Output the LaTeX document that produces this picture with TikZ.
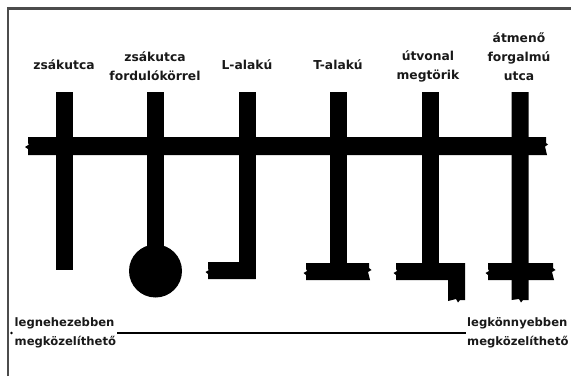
\documentclass[tikz,border=0pt]{standalone}
\usepackage{fontspec}
\setmainfont{DejaVu Sans}
\usepackage{tikz}
\usetikzlibrary{positioning}

\begin{document}
\begin{tikzpicture}[x=1pt,y=1pt]
  \tikzstyle{road}=[fill=black]
  \tikzstyle{caption}=[font=\bfseries\fontsize{12.3}{19}\selectfont,align=center,inner sep=0pt,text=black!90]
  \tikzstyle{endlabel}=[font=\bfseries\fontsize{11.6}{19}\selectfont,align=left,inner sep=1pt,text=black!90]
  \useasboundingbox (0,0) rectangle (571,376);
  \fill[white] (0,0) rectangle (571,376);
  \draw[line width=2.6pt,black!70] (8,0) -- (8,367.5) -- (571,367.5);
    % main road
    \fill[road] (28,239) -- (546,239) -- (546,233) -- (548,231.5) -- (545,229.5) -- (547,221)
      -- (28,221) -- (28,227) -- (25,229) -- (29,231.5) -- (28,233) -- cycle;
    % zsakutca
    \fill[road] (55.5,106) rectangle (72.5,284);
    % zsakutca fordulokorrel
    \fill[road] (146.5,110) rectangle (163.5,284);
    \fill[road] (155.5,105) circle (26.5);
    % L-alaku
    \fill[road] (238.5,97) rectangle (255.5,284);
    \fill[road] (208,114) -- (255.5,114) -- (255.5,97) -- (208,97) -- (208,102)
      -- (205.5,104) -- (209,106) -- (208,107) -- cycle;
    % T-alaku
    \fill[road] (329.5,105) rectangle (346.5,284);
    \fill[road] (306,113) -- (369,113) -- (369,108) -- (371.5,106) -- (368,104) -- (370,96)
      -- (306,96) -- (306,101) -- (303.5,103) -- (307,105) -- (306,107) -- cycle;
    % utvonal megtorik
    \fill[road] (421.5,105) rectangle (438.5,284);
    \fill[road] (396,113) -- (465,113) -- (465,76) -- (460,76) -- (458,73.5) -- (456,77)
      -- (448,75) -- (448,96) -- (396,96) -- (396,101) -- (393.5,103) -- (397,105) -- (396,107) -- cycle;
    % atmeno forgalmu utca
    \fill[road] (511.5,76) -- (511.5,284) -- (528.5,284) -- (528.5,76) -- (523,76)
      -- (521,73.5) -- (519,77) -- cycle;
    \fill[road] (488,113) -- (553,113) -- (553,108) -- (555.5,106) -- (552,104) -- (554,96)
      -- (488,96) -- (488,101) -- (485.5,103) -- (489,105) -- (488,107) -- cycle;
    % captions
    \node[caption] (c1) at (64,311) {zsákutca};
    \node[caption] (c2) at (155,309.5) {zsákutca\\fordulókörrel};
    \node[caption] (c3) at (247,311) {L-alakú};
    \node[caption] (c4) at (338,311) {T-alakú};
    \node[caption] (c5) at (428,309.5) {útvonal\\megtörik};
    \node[caption] (c6) at (519,319) {átmenő\\forgalmú\\utca};
    % accessibility scale
    \node[endlabel,anchor=west] (hard) at (13.5,43) {legnehezebben\\megközelíthető};
    \node[endlabel,anchor=west] (easy) at (466,43) {legkönnyebben\\megközelíthető};
    \fill (11.5,43) circle (1.3);
    \draw[line width=2.6pt] (hard.east) -- (easy.west);
\end{tikzpicture}
\end{document}
